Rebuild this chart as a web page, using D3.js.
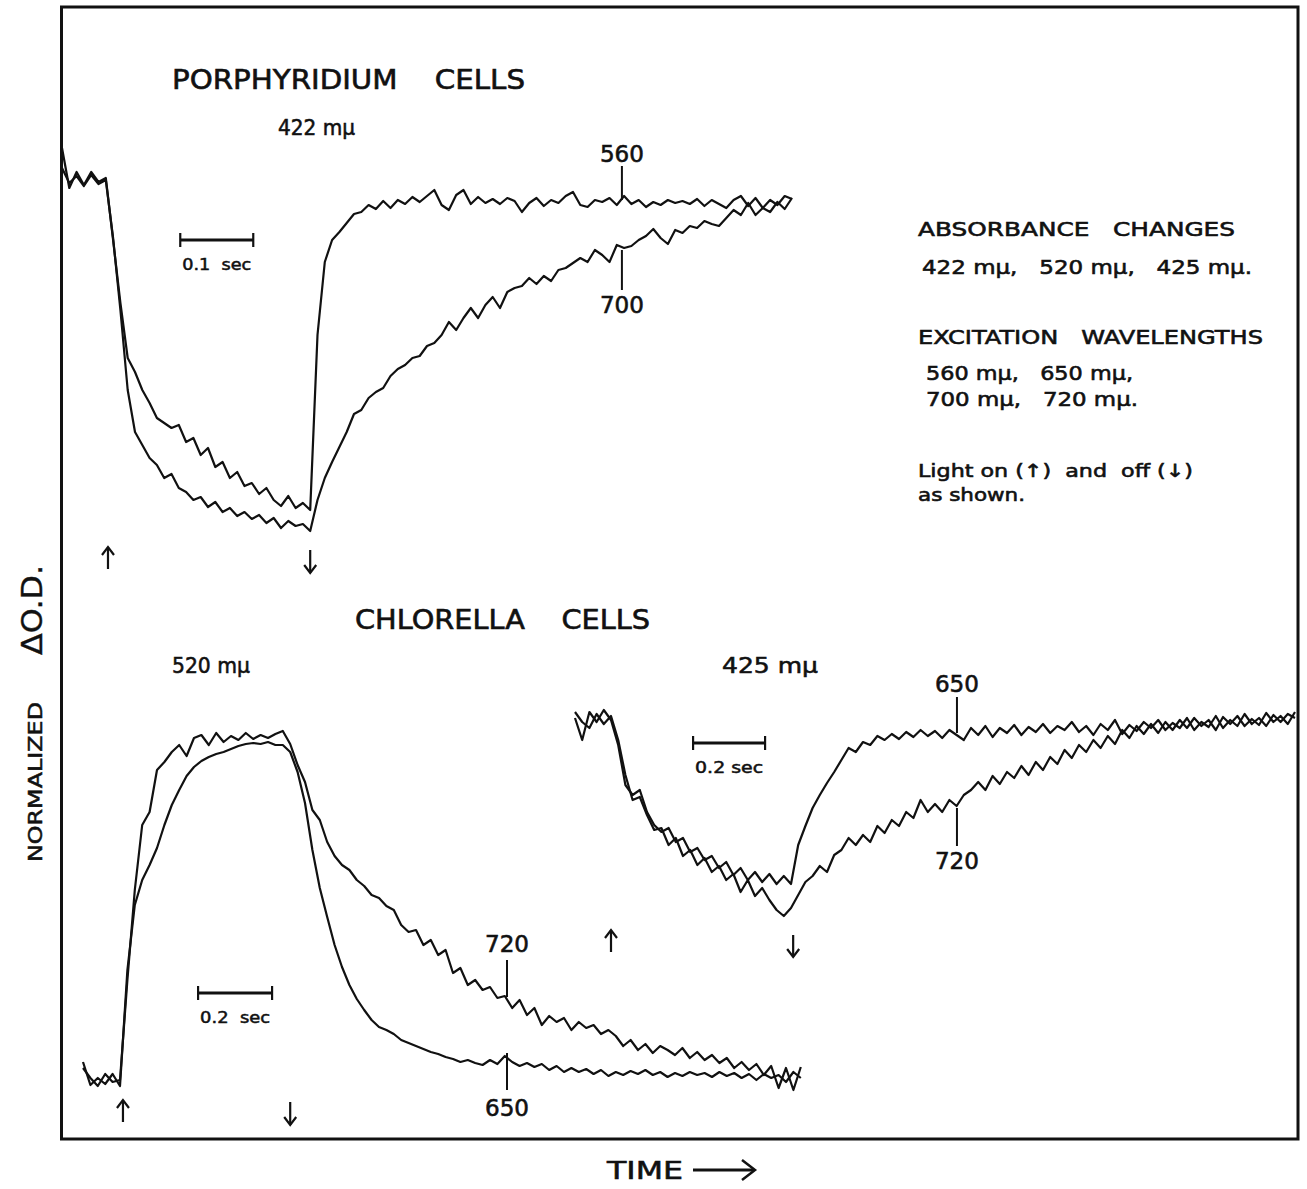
<!DOCTYPE html>
<html><head><meta charset="utf-8">
<script src="https://cdn.jsdelivr.net/npm/d3@7"></script>
<style>body{margin:0;background:#fff} svg{display:block} text{white-space:pre}</style>
</head><body>
<svg id="c" width="1307" height="1189"></svg>
<script>
// ---------- DATA (normalized ΔO.D., arbitrary units; sampled at fixed time steps) ----------
// Panel A: Porphyridium cells, 422 mμ, step 0.01 s
const stepA = 0.01;
const a560 = [32,-8,8,-5,8,-2,2,-60,-123,-178,
 -192,-210,-223,-238,-243,-248,-245,-262,-258,-275,
 -268,-287,-282,-298,-292,-306,-303,-314,-308,-320,
 -326,-316,-328,-323,-330,-155,-82,-60,-52,-43,
 -34,-32,-25,-29,-21,-28,-20,-24,-17,-22,
 -16,-10,-25,-30,-15,-10,-24,-17,-23,-19,
 -24,-18,-21,-32,-23,-18,-26,-20,-23,-16,
 -12,-25,-27,-20,-22,-18,-25,-16,-24,-20,
 -27,-22,-25,-20,-23,-21,-24,-19,-26,-20,
 -24,-28,-20,-16,-26,-18,-28,-20,-25,-16,-19];
const a700 = [12,-3,4,-6,5,-4,0,-58,-130,-210,
 -252,-265,-278,-285,-298,-294,-308,-312,-320,-317,
 -327,-322,-332,-328,-336,-332,-339,-335,-343,-338,
 -348,-341,-346,-344,-351,-320,-298,-282,-267,-252,
 -234,-230,-218,-212,-208,-196,-189,-185,-178,-176,
 -166,-163,-155,-142,-150,-138,-128,-138,-125,-117,
 -128,-112,-108,-106,-98,-104,-96,-101,-90,-88,
 -83,-78,-82,-70,-75,-82,-65,-68,-66,-60,
 -56,-49,-58,-64,-50,-53,-46,-48,-41,-44,
 -46,-38,-30,-35,-23,-35,-28,-32,-22,-29,-18];

// Panel B: Chlorella cells, 520 mμ, step 0.02 s
const stepB = 0.02;
const b650 = [18,-5,2,-4,6,-6,110,175,200,215,
 232,255,275,290,304,313,319,323,326,328,
 331,334,336,337,336,338,335,335,328,308,
 277,230,192,163,135,113,95,81,70,60,
 53,50,46,40,37,34,31,28,26,23,
 21,18,20,17,15,20,16,24,18,14,
 17,13,16,10,14,8,12,8,11,6,
 10,4,8,5,9,6,10,5,8,3,
 7,4,8,5,7,3,8,4,7,2,
 6,0,6,2,5,-2,8,2];
const b720 = [12,2,-6,6,-2,0,100,190,255,268,
 310,318,328,335,324,342,345,335,347,338,
 344,340,347,341,345,342,346,349,336,315,
 298,270,260,238,224,215,210,200,194,185,
 182,174,170,155,148,150,135,140,125,130,
 107,112,95,100,90,93,82,84,72,80,
 65,72,55,64,58,62,50,58,52,55,
 46,50,44,34,40,30,36,27,34,30,
 25,32,22,28,20,25,17,22,12,18,
 10,16,5,14,-8,12,-10,13];

// Panel C: Chlorella cells, 425 mμ, step 0.02 s
const stepC = 0.02;
const c650 = [2,-20,8,-2,10,0,-25,-65,-75,-70,
 -92,-105,-112,-108,-122,-118,-132,-128,-140,-136,
 -148,-142,-155,-148,-160,-152,-162,-154,-164,-156,
 -164,-125,-106,-88,-75,-63,-52,-40,-28,-32,
 -22,-25,-16,-20,-14,-19,-12,-17,-10,-16,
 -11,-18,-10,-15,-20,-8,-15,-6,-17,-8,
 -13,-5,-15,-7,-12,-4,-13,-6,-10,-2,
 -12,-6,-15,-4,-10,0,-14,-5,-11,-2,
 -8,0,-10,-3,-8,2,-10,-2,-7,4,
 -8,0,-6,6,-4,2,-6,5,-2,6,2];
const c720 = [8,-2,-8,6,-4,4,-20,-55,-80,-77,
 -95,-110,-108,-125,-118,-136,-130,-145,-138,-152,
 -146,-160,-154,-172,-160,-176,-168,-180,-190,-196,
 -188,-175,-162,-156,-146,-152,-135,-130,-118,-125,
 -115,-122,-106,-113,-100,-106,-92,-98,-80,-92,
 -84,-92,-80,-86,-75,-70,-62,-70,-56,-64,
 -52,-58,-46,-55,-42,-50,-37,-44,-30,-38,
 -25,-32,-20,-28,-16,-24,-10,-18,-6,-14,
 -4,-13,-2,-10,0,-8,2,-6,0,-10,
 3,-4,4,-6,1,-5,7,-2,4,-4,8];

// light on / off times (s) and scale-bar settings
const lightA = {on: 0.063, off: 0.34};
const lightB = {on: 0.108, off: 0.56};
const lightC = {on: 0.10, off: 0.606};
const scaleBarA = {start: 0.162, len: 0.1, label: "0.1  sec"};
const scaleBarB = {start: 0.311, len: 0.2, label: "0.2  sec"};
const scaleBarC = {start: 0.328, len: 0.2, label: "0.2 sec"};

// ---------- DRAWING ----------
const svg = d3.select('#c');
const FONT = "'DejaVu Sans','Liberation Sans',sans-serif";
const INK = "#111";

svg.append('rect').attr('x',0).attr('y',0).attr('width',1307).attr('height',1189).attr('fill','#fff');
// frame
svg.append('rect').attr('x',61.5).attr('y',7).attr('width',1236.5).attr('height',1132)
  .attr('fill','none').attr('stroke',INK).attr('stroke-width',3);

const xA = d3.scaleLinear().domain([0,1]).range([62,792]);
const yA = d3.scaleLinear().domain([-350,0]).range([530,180]);
const xB = d3.scaleLinear().domain([0,1]).range([83,453]);
const yB = d3.scaleLinear().domain([0,345]).range([1080,735]);
const xC = d3.scaleLinear().domain([0,1]).range([575,935]);
const yC = d3.scaleLinear().domain([-200,0]).range([920,720]);

function trace(vals, step, x, y){
  const line = d3.line().x((d,i)=>x(i*step)).y(d=>y(d)).curve(d3.curveLinear);
  svg.append('path').attr('d', line(vals)).attr('fill','none')
    .attr('stroke',INK).attr('stroke-width',2.2).attr('stroke-linejoin','round');
}
trace(a560, stepA, xA, yA); trace(a700, stepA, xA, yA);
trace(b650, stepB, xB, yB); trace(b720, stepB, xB, yB);
trace(c650, stepC, xC, yC); trace(c720, stepC, xC, yC);

function txt(s, x, y, size, opts={}){
  const t = svg.append('text').attr('x',x).attr('y',y).text(s)
    .attr('font-family',FONT).attr('font-size',size).attr('fill',INK)
    .attr('stroke',INK).attr('stroke-width',opts.sw==null?0.6:opts.sw)
    .attr('text-anchor',opts.anchor||'start');
  if(opts.len){ t.attr('textLength',opts.len).attr('lengthAdjust','spacingAndGlyphs'); }
  return t;
}
function vline(x, y1, y2, w=2){
  svg.append('line').attr('x1',x).attr('x2',x).attr('y1',y1).attr('y2',y2)
    .attr('stroke',INK).attr('stroke-width',w);
}
function arrow(x, yTop, yBot, up){
  vline(x, yTop, yBot, 2.2);
  const tip = up ? yTop : yBot, d = up ? 8 : -8;
  svg.append('path').attr('d',`M${x-6},${tip+d}L${x},${tip}L${x+6},${tip+d}`)
    .attr('fill','none').attr('stroke',INK).attr('stroke-width',2.2);
}
function scaleBar(sb, x, yPix){
  const x1 = x(sb.start), x2 = x(sb.start+sb.len);
  svg.append('line').attr('x1',x1).attr('x2',x2).attr('y1',yPix).attr('y2',yPix)
    .attr('stroke',INK).attr('stroke-width',2.8);
  vline(x1, yPix-7, yPix+7, 2.2); vline(x2, yPix-7, yPix+7, 2.2);
  txt(sb.label, (x1+x2)/2, yPix+30, 15, {anchor:'middle', len:x2-x1-4, sw:0.5});
}

// Panel A annotations
txt("PORPHYRIDIUM    CELLS", 172, 89, 26, {len:353});
txt("422 mμ", 278, 135, 22, {len:77});
scaleBar(scaleBarA, xA, 240);
arrow(xA(lightA.on), 547, 569, true);
arrow(xA(lightA.off), 550, 573, false);
const labA = 0.767;
vline(xA(labA), yA(14), yA(-20));
txt("560", xA(labA), 162, 23, {anchor:'middle', len:44});
vline(xA(labA), yA(-70), yA(-110));
txt("700", xA(labA), 313, 23, {anchor:'middle', len:44});

// Right legend block
txt("ABSORBANCE   CHANGES", 918, 236, 20, {len:317});
txt("422 mμ,   520 mμ,   425 mμ.", 922, 274, 20, {len:330});
txt("EXCITATION   WAVELENGTHS", 918, 344, 20, {len:345});
txt("560 mμ,   650 mμ,", 926, 380, 20, {len:207});
txt("700 mμ,   720 mμ.", 926, 406, 20, {len:212});
txt("Light on (↑)  and  off (↓)", 918, 477, 18, {len:275});
txt("as shown.", 918, 501, 18, {len:107});

// Panel B annotations
txt("CHLORELLA    CELLS", 355, 629, 26, {len:295});
txt("520 mμ", 172, 673, 22, {len:78});
scaleBar(scaleBarB, xB, 993);
arrow(xB(lightB.on), 1100, 1122, true);
arrow(xB(lightB.off), 1102, 1125, false);
const labB = 1.146;
vline(xB(labB), yB(120), yB(83));
txt("720", xB(labB), 952, 23, {anchor:'middle', len:44});
vline(xB(labB), yB(27), yB(-10));
txt("650", xB(labB), 1116, 23, {anchor:'middle', len:44});

// Panel C annotations
txt("425 mμ", 722, 673, 22, {len:96});
scaleBar(scaleBarC, xC, 743);
arrow(xC(lightC.on), 930, 952, true);
arrow(xC(lightC.off), 935, 957, false);
const labC = 1.061;
vline(xC(labC), yC(23), yC(-13));
txt("650", xC(labC), 692, 23, {anchor:'middle', len:44});
vline(xC(labC), yC(-88), yC(-126));
txt("720", xC(labC), 869, 23, {anchor:'middle', len:44});

// Axis labels
const yl = svg.append('g').attr('transform','translate(42,862) rotate(-90)');
yl.append('text').attr('x',0).attr('y',0).text('NORMALIZED')
  .attr('font-family',FONT).attr('font-size',19).attr('fill',INK).attr('stroke',INK).attr('stroke-width',0.5)
  .attr('textLength',160).attr('lengthAdjust','spacingAndGlyphs');
yl.append('text').attr('x',207).attr('y',0).text('ΔO.D.')
  .attr('font-family',FONT).attr('font-size',29).attr('fill',INK).attr('stroke',INK).attr('stroke-width',0.4)
  .attr('textLength',90).attr('lengthAdjust','spacingAndGlyphs');

txt("TIME", 607, 1179, 25, {len:76});
svg.append('line').attr('x1',693).attr('x2',754).attr('y1',1170).attr('y2',1170)
  .attr('stroke',INK).attr('stroke-width',3);
svg.append('path').attr('d','M742,1160L755,1170L742,1180').attr('fill','none')
  .attr('stroke',INK).attr('stroke-width',2.5);
</script>
</body></html>
